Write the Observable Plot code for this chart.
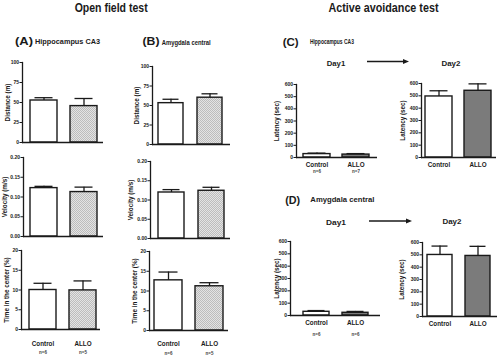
<!DOCTYPE html>
<html><head><meta charset="utf-8">
<script src="https://cdn.jsdelivr.net/npm/d3@7"></script>
<script src="https://cdn.jsdelivr.net/npm/@observablehq/plot@0.6"></script>
<style>
body{margin:0;background:#fff;}
#fig{position:relative;width:500px;height:355px;overflow:hidden;background:#fff;font-family:"Liberation Sans",Arial,Helvetica,sans-serif;color:#1a1a1a;}
.t{position:absolute;white-space:nowrap;line-height:1;}
</style></head>
<body>
<svg width="0" height="0" style="position:absolute"><defs>
<pattern id="hatch" width="2" height="2" patternUnits="userSpaceOnUse">
<rect width="2" height="2" fill="#e3e3e3"/><rect width="1" height="1" fill="#bcbcbc"/><rect x="1" y="1" width="1" height="1" fill="#bcbcbc"/>
</pattern></defs></svg>
<div id="fig"></div>
<script>
// ---------- data ----------
const groups = ["Control", "ALLO"];
// Open field test (mean, SEM)
const distanceA = [52.5, 45.5], distanceA_sem = [3.5, 9.5];
const distanceB = [53, 60], distanceB_sem = [5, 5];
const velocityA = [0.1225, 0.1125], velocityA_sem = [0.0045, 0.0125];
const velocityB = [0.1195, 0.124], velocityB_sem = [0.0075, 0.009];
const centerA = [10.0, 9.9], centerA_sem = [1.7, 2.4];
const centerB = [12.7, 11.2], centerB_sem = [2.1, 0.9];
const nA = [6, 5], nB = [6, 5];
// Active avoidance test: latency (sec)
const day1C = [28, 24], day1C_sem = [8, 8];
const day2C = [495, 541], day2C_sem = [46, 56];
const day1D = [30, 22], day1D_sem = [10, 11];
const day2D = [499, 491], day2D_sem = [72, 78];
const nC = [6, 7], nD = [6, 6];
// tick values
const ticksDistance = [0, 25, 50, 75, 100];
const ticksVelocity = [0, 0.05, 0.10, 0.15, 0.20];
const ticksCenter = [0, 5, 10, 15, 20];
const ticksLatency = [0, 100, 200, 300, 400, 500, 600];

// ---------- drawing ----------
const INK = "#1a1a1a";
const FONT = '"Liberation Sans", Arial, Helvetica, sans-serif';
const fig = document.getElementById("fig");
const WHITE = "#ffffff", HATCH = "url(#hatch)", DARK = "#7b7b7b";

function chart(c) {
  const ML = 30, MR = 4, MT = 6, MB = 30;
  const data = groups.map((g, i) => ({g, v: c.values[i], e: c.sem[i], n: c.n ? c.n[i] : null}));
  const marks = [];
  groups.forEach((g, i) => marks.push(Plot.barY(data.filter(d => d.g === g), {x: "g", y: "v", fill: c.fills[i], stroke: INK, strokeWidth: 1.4})));
  marks.push(
    Plot.ruleX(data, {x: "g", y1: "v", y2: d => d.v + d.e, stroke: INK, strokeWidth: 1.3}),
    Plot.tickY(data, {x: "g", y: d => d.v + d.e, stroke: INK, strokeWidth: 1.3, insetLeft: 4.5, insetRight: 4.5}),
    Plot.ruleY([0], {stroke: INK, strokeWidth: 1.5}),
    Plot.frame({anchor: "left", stroke: INK, strokeWidth: 1.3}),
    Plot.axisY({ticks: c.ticks, tickFormat: c.fmt, tickSize: 2.5, tickPadding: 1, fontSize: 5, fontWeight: "bold", label: null, stroke: INK, strokeWidth: 1, fill: INK}),
    Plot.text([c.ylabel], {text: d => d, frameAnchor: "left", dx: -c.labDx, rotate: -90, textAnchor: "middle", lineAnchor: "middle", fontSize: 6.3, fontWeight: "bold", fill: INK})
  );
  if (c.catDy != null) marks.push(Plot.text(data, {x: "g", text: "g", frameAnchor: "bottom", dy: c.catDy, textAnchor: "middle", lineAnchor: "middle", fontSize: 6.3, fontWeight: "bold", fill: INK}));
  if (c.n) marks.push(Plot.text(data, {x: "g", text: d => "n=" + d.n, frameAnchor: "bottom", dy: c.nDy, textAnchor: "middle", lineAnchor: "middle", fontSize: 4.5, fontWeight: "bold", fill: "#444"}));
  const svg = Plot.plot({
    width: ML + (c.x1 - c.x0) + MR,
    height: MT + (c.yBot - c.yTop) + MB,
    marginLeft: ML, marginRight: MR, marginTop: MT, marginBottom: MB,
    x: {type: "band", domain: groups, paddingInner: c.pad[0], paddingOuter: c.pad[1], align: c.pad[2], axis: null},
    y: {domain: c.domain, label: null},
    style: {background: "transparent", overflow: "visible", fontFamily: FONT, color: INK},
    marks
  });
  svg.style.position = "absolute";
  svg.style.left = (c.x0 - ML) + "px";
  svg.style.top = (c.yTop - MT) + "px";
  svg.style.maxWidth = "none";
  fig.appendChild(svg);
}

function label(txt, cx, cy, size, width, weight = "bold") {
  const d = document.createElement("div");
  d.className = "t";
  d.textContent = txt;
  d.style.fontSize = size + "px";
  d.style.fontWeight = weight;
  fig.appendChild(d);
  const w = d.getBoundingClientRect().width;
  d.style.left = (cx - w / 2) + "px";
  d.style.top = (cy - size / 2) + "px";
  if (width) d.style.transform = `scaleX(${width / w})`;
}

function arrow(x1, x2, y) {
  const ns = "http://www.w3.org/2000/svg";
  const s = document.createElementNS(ns, "svg");
  s.setAttribute("width", 500); s.setAttribute("height", 355);
  s.style.position = "absolute"; s.style.left = "0px"; s.style.top = "0px";
  const l = document.createElementNS(ns, "line");
  l.setAttribute("x1", x1); l.setAttribute("x2", x2 - 4); l.setAttribute("y1", y); l.setAttribute("y2", y);
  l.setAttribute("stroke", INK); l.setAttribute("stroke-width", 1.3);
  const p = document.createElementNS(ns, "polygon");
  p.setAttribute("points", `${x2},${y} ${x2 - 6},${y - 2.5} ${x2 - 6},${y + 2.5}`);
  p.setAttribute("fill", INK);
  s.appendChild(l); s.appendChild(p);
  fig.appendChild(s);
}

const f2 = d3.format(".2f"), f0 = d3.format("d");
const OF = [0.32, 0.16, 0.55];

// Open field — A
chart({x0: 22, x1: 103, yTop: 62, yBot: 142, domain: [0, 100], ticks: ticksDistance, fmt: f0, ylabel: "Distance (m)", labDx: 15, values: distanceA, sem: distanceA_sem, fills: [WHITE, HATCH], pad: OF});
chart({x0: 23, x1: 103, yTop: 157, yBot: 236, domain: [0, 0.2], ticks: ticksVelocity, fmt: f2, ylabel: "Velocity (m/s)", labDx: 18.5, values: velocityA, sem: velocityA_sem, fills: [WHITE, HATCH], pad: OF});
chart({x0: 21, x1: 100, yTop: 250, yBot: 329, domain: [0, 20], ticks: ticksCenter, fmt: f0, ylabel: "Time in the center (%)", labDx: 15, values: centerA, sem: centerA_sem, fills: [WHITE, HATCH], pad: [0.32, 0.13, 0.65], catDy: 14, n: nA, nDy: 23});
// Open field — B
chart({x0: 152, x1: 230, yTop: 66, yBot: 144, domain: [0, 100], ticks: ticksDistance, fmt: f0, ylabel: "Distance (m)", labDx: 16, values: distanceB, sem: distanceB_sem, fills: [WHITE, HATCH], pad: [0.36, 0.16, 0.46]});
chart({x0: 150, x1: 230, yTop: 161, yBot: 238, domain: [0, 0.2], ticks: ticksVelocity, fmt: f2, ylabel: "Velocity (m/s)", labDx: 19.5, values: velocityB, sem: velocityB_sem, fills: [WHITE, HATCH], pad: [0.36, 0.18, 0.53]});
chart({x0: 149, x1: 228, yTop: 251, yBot: 330, domain: [0, 20], ticks: ticksCenter, fmt: f0, ylabel: "Time in the center (%)", labDx: 14.5, values: centerB, sem: centerB_sem, fills: [WHITE, HATCH], pad: [0.32, 0.12, 0.45], catDy: 13, n: nB, nDy: 23});
// Active avoidance — C
chart({x0: 296, x1: 377, yTop: 84, yBot: 157, domain: [0, 600], ticks: ticksLatency, fmt: f0, ylabel: "Latency (sec)", labDx: 19.5, values: day1C, sem: day1C_sem, fills: [WHITE, DARK], pad: [0.31, 0.19, 0.47], catDy: 7, n: nC, nDy: 14});
chart({x0: 421, x1: 496, yTop: 83, yBot: 157, domain: [0, 600], ticks: ticksLatency, fmt: f0, ylabel: "Latency (sec)", labDx: 18.5, values: day2C, sem: day2C_sem, fills: [WHITE, DARK], pad: [0.3, 0.11, 0.5], catDy: 7});
// Active avoidance — D
chart({x0: 290, x1: 380, yTop: 241, yBot: 315, domain: [0, 600], ticks: ticksLatency, fmt: f0, ylabel: "Latency (sec)", labDx: 13.5, values: day1D, sem: day1D_sem, fills: [WHITE, DARK], pad: [0.325, 0.29, 0.52], catDy: 7, n: nD, nDy: 19});
chart({x0: 422, x1: 497, yTop: 242, yBot: 316, domain: [0, 600], ticks: ticksLatency, fmt: f0, ylabel: "Latency (sec)", labDx: 21, values: day2D, sem: day2D_sem, fills: [WHITE, DARK], pad: [0.33, 0.15, 0.4], catDy: 7});

// headings
label("Open field test", 111, 7, 13, 73);
label("Active avoidance test", 383, 7, 13, 110);
label("(A)", 24, 42, 11.5, 18);
label("Hippocampus CA3", 67.5, 42, 8, 65);
label("(B)", 150.5, 42, 11.5, 17);
label("Amygdala central", 186.5, 42, 7, 49);
label("(C)", 291, 42, 11, 16);
label("Hippocampus CA3", 332, 42, 6.5, 44);
label("(D)", 292.5, 200, 11, 15);
label("Amygdala central", 342, 200, 8, 64);
label("Day1", 336, 64, 7.5, 18.5);
label("Day2", 451, 64, 7.5, 19);
label("Day1", 336, 223, 7.5, 20);
label("Day2", 452, 222, 7.5, 19);
arrow(367, 409, 61.5);
arrow(369, 412, 221);
</script>
</body></html>
